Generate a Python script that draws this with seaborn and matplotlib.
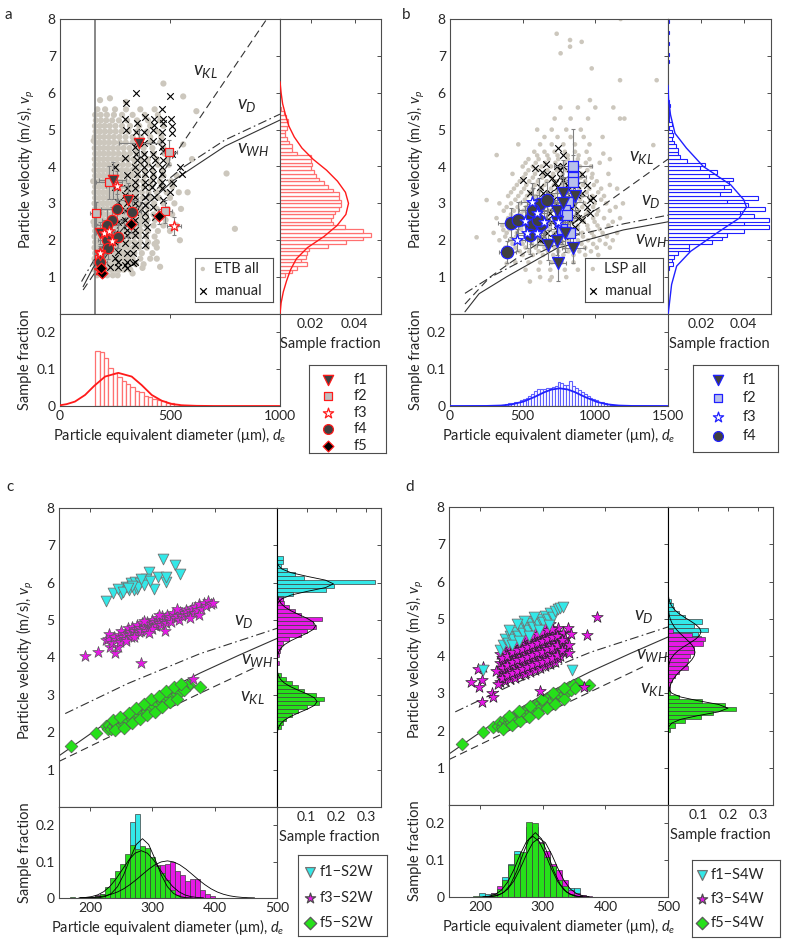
import numpy as np
import matplotlib
matplotlib.use('Agg')
import matplotlib.pyplot as plt
import seaborn as sns

sns.set_style('white')
plt.rcParams['font.family'] = ['Lato', 'DejaVu Sans']
plt.rcParams['mathtext.fontset'] = 'custom'
plt.rcParams['mathtext.rm'] = 'Lato'
plt.rcParams['mathtext.it'] = 'Lato:italic'
plt.rcParams['font.size'] = 10

# ---------------- panel a (ETB) ----------------
etb_rows = [
    (1.05, [168, 190, 215, 240, 262]),
    (1.2, [158, 176, 195, 213, 232, 251, 270, 290, 320]),
    (1.35, [160, 178, 196, 215, 234, 252, 271, 292, 315, 345, 380]),
    (1.5, [157, 175, 193, 211, 230, 248, 267, 286, 306, 330, 365, 410]),
    (1.65, [160, 178, 197, 216, 234, 253, 272, 292, 313, 338, 372, 420]),
    (1.8, [157, 175, 193, 212, 231, 250, 269, 289, 310, 333, 360, 395, 440]),
    (1.95, [160, 178, 196, 215, 234, 253, 272, 292, 314, 338, 365, 400, 440]),
    (2.1, [157, 175, 194, 213, 232, 251, 271, 291, 312, 335, 360, 392, 430]),
    (2.25, [160, 178, 197, 216, 235, 254, 274, 295, 317, 341, 368, 400, 445, 500]),
    (2.4, [157, 175, 194, 213, 232, 252, 272, 293, 315, 338, 363, 392, 425, 470, 530]),
    (2.55, [160, 178, 197, 216, 235, 255, 275, 296, 318, 342, 368, 398, 432, 480]),
    (2.7, [157, 176, 195, 214, 233, 253, 273, 294, 316, 339, 364, 392, 425, 462, 510]),
    (2.85, [160, 178, 197, 216, 236, 256, 276, 297, 320, 344, 370, 400, 440, 490, 550]),
    (3.0, [157, 175, 194, 213, 233, 253, 273, 294, 316, 340, 366, 395, 428, 470, 520]),
    (3.15, [160, 179, 198, 217, 237, 257, 278, 300, 323, 348, 376, 408, 450, 500]),
    (3.3, [157, 176, 195, 214, 234, 254, 275, 297, 320, 345, 372, 402, 440, 485, 540]),
    (3.45, [160, 179, 198, 218, 238, 258, 279, 301, 325, 351, 380, 415, 460, 510]),
    (3.6, [157, 176, 195, 215, 235, 256, 277, 299, 323, 349, 378, 412, 455, 505]),
    (3.75, [160, 179, 198, 218, 238, 259, 281, 304, 328, 355, 386, 425, 470, 530]),
    (3.9, [157, 176, 196, 216, 236, 257, 279, 302, 327, 354, 385, 420, 465]),
    (4.05, [160, 180, 200, 220, 241, 263, 286, 311, 338, 368, 402, 445, 495]),
    (4.2, [158, 177, 197, 217, 238, 260, 283, 308, 335, 365, 400, 440, 490]),
    (4.35, [160, 180, 200, 221, 243, 266, 291, 318, 348, 382, 425, 475]),
    (4.5, [158, 178, 198, 219, 241, 264, 289, 316, 346, 380, 420, 470]),
    (4.65, [161, 181, 202, 224, 247, 272, 299, 330, 365, 408, 455]),
    (4.8, [158, 179, 200, 222, 245, 270, 298, 330, 368, 410, 460]),
    (4.95, [162, 183, 205, 228, 253, 280, 312, 350, 395, 445]),
    (5.1, [159, 180, 202, 226, 252, 282, 318, 360, 410, 470]),
    (5.25, [163, 186, 210, 237, 268, 305, 350, 400, 455]),
    (5.4, [160, 185, 213, 245, 282, 330, 385, 445]),
    (5.55, [170, 205, 250, 300, 365, 430]),
]
etb_extra_d = [182, 227, 300, 470, 560, 620, 757, 795, 560, 580, 545, 440, 375, 330, 600, 455, 430, 152, 151, 153]
etb_extra_v = [5.8, 5.85, 5.75, 6.25, 5.9, 5.5, 3.81, 2.31, 4.6, 3.3, 2.0, 1.5, 1.25, 1.1, 4.2, 1.28, 1.9, 2.5, 3.6, 4.7]

etb_manual = [(344, 6.0), (500, 5.91), (300, 5.71), (465, 5.57), (295, 5.3), (300, 4.99), (386, 5.33), (427, 5.3),
              (469, 5.3), (503, 5.3), (427, 5.12), (466, 5.17), (507, 5.1), (348, 5.17), (344, 4.94), (382, 4.94),
              (424, 4.99), (463, 4.94), (507, 4.9), (348, 4.67), (382, 4.64), (424, 4.69), (463, 4.7), (462, 4.54),
              (469, 4.43), (295, 4.22), (341, 4.54), (344, 4.35), (382, 4.35), (424, 4.35), (507, 4.35), (348, 4.17),
              (382, 4.17), (432, 4.17), (469, 4.17), (250, 3.99), (341, 3.99), (382, 3.99), (417, 3.99), (465, 3.99),
              (545, 3.99), (553, 3.81), (348, 3.81), (386, 3.81), (424, 3.81), (465, 3.81), (303, 3.77), (341, 3.59),
              (386, 3.59), (424, 3.63), (465, 3.59), (515, 3.54), (250, 3.45), (303, 3.41), (341, 3.41), (386, 3.45),
              (417, 3.45), (465, 3.41), (500, 3.32), (295, 3.23), (341, 3.18), (386, 3.18), (429, 3.18), (469, 3.09),
              (265, 3.04), (303, 3.0), (341, 3.0), (386, 2.95), (424, 2.91), (257, 2.86), (295, 2.82), (341, 2.77),
              (386, 2.73), (432, 2.64), (295, 2.55), (341, 2.55), (386, 2.55), (265, 2.5), (394, 2.37), (303, 2.28),
              (341, 2.28), (250, 2.19), (303, 2.14), (341, 2.14), (386, 2.14), (250, 1.96), (295, 1.92), (341, 1.87),
              (386, 1.87), (220, 1.73), (265, 1.69), (303, 1.65), (333, 1.65), (250, 1.51), (265, 1.42), (303, 1.42),
              (341, 1.42), (295, 1.33), (333, 1.37), (265, 1.28), (303, 1.24), (227, 1.28)]

# (d, v, d error, v error)
etb_f1 = [(361, 4.64, 95, 0.35), (239, 3.63, 60, 0.5), (308, 3.09, 45, 0.45), (183, 2.2, 25, 0.3), (180, 1.6, 20, 0.2)]
etb_f2 = [(162, 2.74, 25, 0.3), (224, 3.57, 60, 0.45), (497, 4.38, 35, 0.35), (477, 2.78, 30, 0.3), (178, 1.5, 20, 0.2)]
etb_f3 = [(257, 3.48, 50, 0.4), (518, 2.38, 30, 0.25), (200, 2.2, 35, 0.3), (222, 2.25, 30, 0.3), (237, 1.97, 25, 0.25),
          (183, 1.65, 20, 0.2), (175, 1.2, 15, 0.15)]
etb_f4 = [(257, 2.86, 70, 0.4), (329, 2.76, 40, 0.3), (235, 2.55, 45, 0.35), (212, 2.41, 50, 0.45), (212, 2.0, 40, 0.35),
          (265, 2.1, 45, 0.3), (218, 1.78, 40, 0.3), (182, 1.42, 30, 0.2)]
etb_f5 = [(323, 2.45, 30, 0.25), (451, 2.65, 25, 0.2), (189, 1.1, 15, 0.1), (186, 1.25, 15, 0.1)]
etb_cutoff = 160

a_kl = ([105, 940], [0.65, 8.0])
a_dd = ([98, 150, 200, 300, 400, 560, 750, 1000], [0.88, 1.42, 1.88, 2.62, 3.2, 3.98, 4.72, 5.42])
a_wh = ([105, 150, 200, 300, 400, 515, 750, 1000], [0.74, 1.25, 1.7, 2.42, 3.0, 3.62, 4.55, 5.26])

a_vhist_start, a_vhist_w = 1.0, 0.1
a_vhist = [0.0085, 0.0115, 0.0138, 0.0185, 0.0154, 0.0177, 0.0185, 0.019, 0.0277, 0.036, 0.044, 0.0474, 0.0438,
           0.0354, 0.030, 0.029, 0.030, 0.031, 0.033, 0.034, 0.034, 0.033, 0.033, 0.030, 0.0277, 0.026, 0.0238,
           0.0223, 0.0215, 0.020, 0.0208, 0.020, 0.020, 0.0138, 0.0115, 0.0115, 0.010, 0.0092, 0.0085, 0.0085,
           0.009, 0.0097, 0.0097, 0.0088, 0.0077, 0.0066]
a_vfit_v = [0.0, 0.3, 0.6, 0.9, 1.2, 1.5, 1.8, 2.1, 2.4, 2.7, 3.0, 3.3, 3.6, 3.9, 4.2, 4.5, 4.8, 5.1, 5.4, 5.7, 6.0, 6.3]
a_vfit_f = [0.0060, 0.0065, 0.0075, 0.0090, 0.0108, 0.0135, 0.0185, 0.0260, 0.0320, 0.0360, 0.0372, 0.0358, 0.0322,
            0.0272, 0.0210, 0.0160, 0.0125, 0.0100, 0.0085, 0.0072, 0.0065, 0.0060]
a_dhist_start, a_dhist_w = 160, 20
a_dhist = [0.150, 0.148, 0.130, 0.103, 0.091, 0.080, 0.068, 0.059, 0.051, 0.041, 0.038, 0.028, 0.025, 0.019,
           0.016, 0.014, 0.009, 0.007, 0.005, 0.004]
a_dfit_d = [0, 30, 68, 114, 156, 205, 265, 326, 371, 417, 462, 508, 553, 620, 700, 1000]
a_dfit_f = [0.002, 0.005, 0.012, 0.030, 0.055, 0.080, 0.090, 0.080, 0.057, 0.030, 0.0145, 0.0055, 0.002, 0.0005, 0, 0]

# ---------------- panel b (LSP) ----------------
lsp_rows = [
    (1.0, [620, 700, 800]),
    (1.2, [520, 610, 690, 790, 880]),
    (1.4, [450, 540, 620, 700, 770, 850, 950]),
    (1.6, [420, 500, 570, 640, 710, 780, 850, 930, 1020]),
    (1.7, [480, 545, 610, 675, 745, 815, 890, 970]),
    (1.8, [380, 450, 520, 590, 650, 720, 790, 860, 930, 1010, 1100]),
    (1.9, [430, 500, 565, 630, 700, 770, 840, 905, 985, 1070]),
    (2.0, [340, 420, 490, 555, 620, 685, 750, 815, 880, 950, 1030, 1120]),
    (2.1, [380, 455, 520, 585, 650, 715, 785, 850, 915, 990, 1080]),
    (2.2, [300, 390, 460, 525, 590, 650, 715, 780, 845, 910, 975, 1050, 1150]),
    (2.3, [410, 490, 555, 620, 685, 750, 815, 880, 950, 1030]),
    (2.4, [360, 430, 495, 560, 620, 685, 750, 815, 880, 945, 1015, 1090]),
    (2.5, [395, 465, 530, 590, 655, 720, 785, 850, 920, 995, 1120]),
    (2.6, [320, 400, 470, 535, 595, 655, 720, 785, 850, 915, 985, 1060, 1170]),
    (2.7, [420, 490, 550, 610, 675, 740, 805, 870, 935, 1010]),
    (2.8, [370, 440, 505, 565, 625, 690, 755, 820, 885, 950, 1020, 1100]),
    (2.9, [390, 465, 525, 585, 650, 715, 780, 845, 910, 985, 1140]),
    (3.0, [340, 420, 485, 545, 605, 665, 730, 795, 860, 925, 995, 1075, 1190]),
    (3.1, [450, 515, 575, 635, 700, 765, 830, 895, 965, 1040]),
    (3.2, [400, 470, 530, 590, 650, 715, 780, 845, 910, 980, 1060]),
    (3.3, [420, 490, 550, 610, 675, 740, 805, 870, 940, 1020]),
    (3.4, [440, 510, 570, 630, 695, 760, 825, 890, 960, 1040, 1150]),
    (3.5, [460, 525, 585, 650, 715, 780, 845, 915, 990, 1100]),
    (3.6, [480, 545, 605, 665, 730, 795, 860, 930, 1010]),
    (3.7, [505, 570, 635, 700, 765, 830, 900, 975]),
    (3.8, [430, 520, 585, 645, 710, 775, 840, 905, 980, 1090]),
    (3.9, [540, 605, 670, 735, 800, 870, 945]),
    (4.0, [500, 570, 630, 695, 760, 825, 895, 970]),
    (4.1, [520, 590, 655, 725, 790, 860, 935, 1030]),
    (4.2, [540, 610, 680, 745, 810, 880, 960, 1100]),
    (4.3, [600, 670, 740, 810, 885]),
    (4.4, [580, 650, 720, 790, 860, 940]),
    (4.6, [470, 620, 700, 780, 860, 960]),
    (4.8, [650, 740, 830, 920, 1050]),
    (5.0, [600, 700, 800, 900]),
    (5.3, [720, 830, 950, 1200]),
    (5.6, [760, 880, 1000]),
]
lsp_extra_d = [321, 252, 183, 1170, 1422, 906, 826, 734, 826, 1174, 975, 761, 1055, 1399, 1124, 963, 1170, 550, 688, 390, 367]
lsp_extra_v = [4.31, 3.09, 2.08, 6.34, 6.34, 7.38, 7.25, 7.6, 7.43, 8.0, 6.66, 7.07, 4.35, 4.58, 5.6, 5.8, 5.3, 0.88, 0.92, 1.37, 2.28]

lsp_manual = [(745, 4.49), (780, 4.31), (660, 4.08), (585, 3.95), (504, 3.63), (630, 3.86), (700, 3.68), (757, 3.72),
              (780, 4.0), (826, 3.81), (906, 3.81), (940, 3.5), (986, 3.14), (963, 2.73), (906, 3.27), (872, 3.5),
              (803, 3.5), (734, 3.45), (688, 3.27), (642, 3.27), (711, 3.09), (826, 2.91), (872, 2.73), (906, 2.55),
              (860, 2.37), (826, 2.55), (688, 2.73), (665, 2.55), (734, 2.28), (665, 2.19), (619, 2.01), (619, 3.45),
              (550, 3.27), (734, 4.0), (780, 3.63), (837, 3.09), (780, 2.37), (573, 2.95), (963, 3.09), (665, 3.81),
              (872, 3.23), (711, 2.91), (757, 2.64), (826, 2.28), (760, 3.9), (800, 3.3), (850, 2.95), (700, 2.5),
              (880, 2.6), (940, 2.9), (600, 2.6), (640, 2.3), (720, 3.55), (760, 2.9)]

lsp_f1 = [(780, 3.27, 120, 0.9), (860, 3.2, 90, 0.6), (734, 2.5, 80, 0.5), (791, 2.19, 70, 0.5), (734, 1.99, 60, 0.4),
          (672, 1.87, 70, 0.4), (741, 1.39, 60, 0.5), (849, 1.78, 80, 0.4), (734, 2.79, 100, 0.6), (780, 3.0, 90, 0.7)]
lsp_f2 = [(844, 4.01, 130, 1.0), (844, 3.72, 90, 0.6), (844, 3.59, 80, 0.5), (815, 3.04, 100, 0.6),
          (788, 2.82, 90, 0.5), (803, 2.68, 80, 0.4), (768, 2.3, 70, 0.4), (826, 2.19, 60, 0.3)]
lsp_f3 = [(566, 3.04, 80, 0.5), (596, 2.73, 70, 0.5), (516, 2.52, 60, 0.4), (527, 2.19, 70, 0.4), (459, 2.01, 60, 0.3),
          (596, 2.21, 60, 0.3), (649, 2.49, 70, 0.4), (745, 2.49, 80, 0.4)]
lsp_f4 = [(418, 2.48, 90, 0.4), (466, 2.55, 80, 0.5), (562, 2.64, 100, 0.6), (612, 2.99, 80, 0.7), (665, 3.09, 90, 0.5),
          (573, 2.82, 100, 0.6), (557, 2.41, 80, 0.5), (624, 2.44, 70, 0.4), (394, 1.67, 60, 0.3), (550, 2.14, 90, 0.5),
          (607, 2.55, 80, 0.5)]

b_kl = ([103, 275, 573, 1055, 1500], [0.27, 1.0, 1.83, 2.95, 4.2])
b_dd = ([103, 275, 504, 872, 1200, 1500], [0.56, 0.99, 1.46, 2.14, 2.45, 2.68])
b_wh = ([103, 200, 390, 734, 1193, 1500], [0.06, 0.55, 1.01, 1.78, 2.28, 2.5])

b_vhist_start, b_vhist_w = 1.2, 0.1
b_vhist = [0.005, 0.0068, 0.006, 0.007, 0.009, 0.014, 0.014, 0.025, 0.030, 0.032, 0.040, 0.052, 0.040, 0.052, 0.045,
           0.0385, 0.050, 0.042, 0.032, 0.047, 0.029, 0.034, 0.031, 0.033, 0.035, 0.0235, 0.0275, 0.0195, 0.022,
           0.0135, 0.010, 0.009, 0.009, 0.008, 0.007, 0.006, 0.0065, 0.006, 0.005, 0.006, 0.005, 0.005, 0.0048,
           0.0046, 0.0052, 0.0046]
b_vhist_sparse_v = [6.0, 6.8, 7.0, 7.3, 7.6, 7.9]
b_vhist_sparse_f = [0.0045, 0.0046, 0.005, 0.0048, 0.005, 0.0046]
b_vfit_v = [0.0, 0.4, 0.8, 1.3, 1.7, 2.2, 2.6, 2.9, 3.1, 3.5, 4.0, 4.5, 4.9, 5.4, 5.8, 6.2]
b_vfit_f = [0.0044, 0.0052, 0.0060, 0.0084, 0.0150, 0.0275, 0.0380, 0.0414, 0.0401, 0.0340, 0.0210, 0.0130,
            0.0076, 0.0055, 0.0046, 0.0043]
b_dhist_start, b_dhist_w = 360, 20
b_dhist = [0.003, 0.005, 0.008, 0.009, 0.010, 0.012, 0.015, 0.018, 0.022, 0.027, 0.032, 0.040, 0.045, 0.045, 0.046,
           0.048, 0.050, 0.052, 0.055, 0.065, 0.062, 0.058, 0.056, 0.067, 0.055, 0.050, 0.044, 0.038, 0.032, 0.027,
           0.022, 0.018, 0.015, 0.012, 0.010, 0.008, 0.006, 0.004, 0.003, 0.002]
b_dfit_d = [0, 250, 350, 420, 504, 580, 650, 700, 755, 810, 860, 930, 1010, 1080, 1160, 1250, 1500]
b_dfit_f = [0, 0.0002, 0.0013, 0.0040, 0.0118, 0.0243, 0.0376, 0.0449, 0.0480, 0.0449, 0.0376, 0.0243, 0.0113,
            0.0046, 0.0013, 0.0002, 0]

# ---------------- panel c (S2W) ----------------
c_f1 = [(225, 5.5), (237, 5.73), (250, 5.71), (257, 5.89), (265, 5.98), (272, 6.02), (280, 5.98), (285, 6.07),
        (294, 6.29), (302, 5.84), (309, 6.16), (317, 6.64), (322, 6.02), (321, 6.16), (336, 6.47), (344, 6.24),
        (270, 5.8), (275, 5.84), (262, 5.8), (290, 6.11), (277, 5.89), (245, 5.84), (253, 5.76), (286, 5.93),
        (268, 5.92), (281, 6.1), (296, 6.05), (260, 5.86)]
c_f3 = [(192, 4.04), (212, 4.15), (225, 4.47), (232, 4.29), (240, 4.11), (245, 4.29), (282, 3.84), (365, 3.42),
        (228, 4.5), (230, 4.62), (235, 4.4), (238, 4.55), (242, 4.48), (246, 4.6), (248, 4.42), (250, 4.7),
        (253, 4.55), (256, 4.63), (258, 4.5), (260, 4.78), (262, 4.6), (264, 4.68), (266, 4.55), (268, 4.82),
        (270, 4.7), (272, 4.62), (274, 4.76), (276, 4.88), (278, 4.68), (280, 4.8), (282, 4.72), (284, 4.92),
        (286, 4.78), (288, 4.85), (290, 4.7), (292, 4.95), (294, 4.82), (296, 4.9), (298, 4.78), (300, 5.0),
        (302, 4.88), (304, 4.95), (306, 4.83), (308, 5.05), (310, 4.92), (312, 5.0), (314, 4.88), (316, 5.1),
        (318, 4.97), (320, 5.05), (322, 4.92), (324, 5.15), (326, 5.02), (328, 5.08), (330, 4.95), (333, 5.18),
        (336, 5.05), (339, 5.12), (342, 5.0), (345, 5.22), (348, 5.1), (351, 5.18), (354, 5.28), (357, 5.15),
        (360, 5.25), (363, 5.32), (366, 5.2), (369, 5.35), (372, 5.28), (375, 5.42), (378, 5.3), (382, 5.45),
        (386, 5.38), (390, 5.5), (394, 5.44), (398, 5.47), (270, 4.55), (300, 4.75), (320, 4.7), (340, 5.3),
        (286, 4.98), (257, 4.45), (310, 5.15), (295, 4.65), (375, 5.15), (360, 5.05)]
c_f5 = [(170, 1.62), (210, 1.98), (226, 2.16), (376, 3.22), (359, 3.27), (355, 3.25), (228, 2.1), (231, 2.2),
        (234, 2.08), (237, 2.18), (240, 2.25), (243, 2.15), (246, 2.28), (249, 2.2), (252, 2.35), (255, 2.25),
        (258, 2.38), (261, 2.3), (264, 2.45), (267, 2.35), (270, 2.5), (273, 2.42), (276, 2.55), (279, 2.47),
        (282, 2.6), (285, 2.52), (288, 2.66), (291, 2.58), (294, 2.7), (297, 2.62), (300, 2.8), (303, 2.7),
        (306, 2.84), (309, 2.75), (312, 2.9), (315, 2.8), (318, 2.95), (321, 2.86), (324, 3.0), (327, 2.92),
        (330, 3.05), (333, 2.97), (336, 3.1), (339, 3.02), (342, 3.15), (345, 3.08), (348, 3.2), (351, 3.12),
        (236, 2.32), (248, 2.4), (262, 2.52), (274, 2.65), (286, 2.75), (298, 2.88), (310, 2.98), (322, 3.1),
        (334, 3.2), (346, 3.3), (240, 2.05), (255, 2.12), (268, 2.25), (280, 2.35), (292, 2.45), (304, 2.55),
        (316, 2.68), (328, 2.8), (340, 2.9)]

cd_kl = ([150, 250, 376, 467], [1.22, 2.03, 3.04, 3.75])
cd_dd = ([160, 260, 376, 500], [2.5, 3.3, 4.1, 4.78])
cd_wh = ([150, 217, 296, 376, 440, 500], [1.37, 2.15, 2.91, 3.58, 4.07, 4.51])

c_vhist_w = 0.107
c_vhist1 = (5.53, [0.02, 0.053, 0.164, 0.192, 0.331, 0.092, 0.059, 0.033, 0.012, 0.02, 0.02])
c_vhist3 = (3.80, [0.006, 0.0, 0.007, 0.01, 0.015, 0.02, 0.04, 0.08, 0.10, 0.13, 0.12, 0.15, 0.08, 0.06, 0.04,
                   0.025, 0.02])
c_vhist5 = (2.08, [0.015, 0.02, 0.03, 0.05, 0.07, 0.10, 0.14, 0.157, 0.13, 0.09, 0.07, 0.05, 0.03, 0.015])
c_vfit1 = ([5.37, 5.47, 5.57, 5.67, 5.77, 5.87, 5.97, 6.07, 6.17, 6.27, 6.37, 6.47, 6.57],
           [0.0007, 0.004, 0.016, 0.047, 0.102, 0.163, 0.190, 0.163, 0.102, 0.047, 0.016, 0.004, 0.0007])
c_vfit3 = ([3.95, 4.05, 4.15, 4.25, 4.35, 4.45, 4.55, 4.65, 4.75, 4.85, 4.95, 5.05, 5.15, 5.25, 5.35, 5.45, 5.55,
            5.65, 5.75],
           [0.0007, 0.0022, 0.0057, 0.0131, 0.0264, 0.0469, 0.0732, 0.1008, 0.1219, 0.13, 0.1219, 0.1008, 0.0732,
            0.0469, 0.0264, 0.0131, 0.0057, 0.0022, 0.0007])
c_vfit5 = ([1.92, 2.02, 2.12, 2.22, 2.32, 2.42, 2.52, 2.62, 2.72, 2.82, 2.92, 3.02, 3.12, 3.22, 3.32, 3.42, 3.52,
            3.62, 3.72],
           [0.0005, 0.0017, 0.0047, 0.0114, 0.0243, 0.0451, 0.0728, 0.1026, 0.1261, 0.135, 0.1261, 0.1026, 0.0728,
            0.0451, 0.0243, 0.0114, 0.0047, 0.0017, 0.0005])

c_dhist_w = 8
c_dhist1 = (240, [0.01, 0.03, 0.09, 0.21, 0.23, 0.14, 0.10, 0.06, 0.03, 0.02, 0.01])
c_dhist3 = (192, [0.004, 0.004, 0.008, 0.01, 0.012, 0.02, 0.025, 0.03, 0.04, 0.05, 0.06, 0.07, 0.08, 0.085, 0.09,
                  0.09, 0.093, 0.099, 0.074, 0.062, 0.046, 0.051, 0.051, 0.023, 0.01, 0.005])
c_dhist5 = (168, [0.003, 0.0, 0.002, 0.002, 0.003, 0.005, 0.012, 0.03, 0.056, 0.074, 0.093, 0.12, 0.145, 0.134,
                  0.142, 0.136, 0.114, 0.088, 0.068, 0.049, 0.023, 0.007, 0.003])
c_dfit1 = (list(range(204, 365, 10)),
           [0.0002, 0.001, 0.004, 0.0123, 0.0312, 0.0643, 0.1078, 0.147, 0.163, 0.147, 0.1078, 0.0643, 0.0312,
            0.0123, 0.004, 0.001, 0.0002])
c_dfit3 = (list(range(184, 465, 10)),
           [0.0004, 0.0008, 0.0017, 0.0033, 0.006, 0.0103, 0.0166, 0.0254, 0.0368, 0.0502, 0.0648, 0.0791, 0.0911,
            0.0991, 0.102, 0.0991, 0.0911, 0.0791, 0.0648, 0.0502, 0.0368, 0.0254, 0.0166, 0.0103, 0.006, 0.0033,
            0.0017, 0.0008, 0.0004])
c_dfit5 = (list(range(182, 383, 10)),
           [0.0005, 0.0014, 0.0037, 0.0085, 0.0176, 0.0324, 0.0534, 0.0788, 0.1041, 0.123, 0.13, 0.123, 0.1041,
            0.0788, 0.0534, 0.0324, 0.0176, 0.0085, 0.0037, 0.0014, 0.0005])

# ---------------- panel d (S4W) ----------------
d_f1 = [(231, 4.16), (236, 4.3), (240, 4.45), (244, 4.35), (248, 4.55), (252, 4.45), (256, 4.65), (260, 4.55),
        (264, 4.75), (268, 4.62), (272, 4.8), (276, 4.7), (280, 4.88), (284, 4.78), (288, 4.95), (292, 4.85),
        (296, 5.0), (300, 4.92), (304, 5.08), (308, 5.0), (312, 5.15), (316, 5.05), (320, 5.22), (324, 5.25),
        (328, 5.28), (332, 5.32), (204, 3.62), (347, 3.62), (250, 4.3), (262, 4.4), (278, 4.55), (294, 4.7),
        (310, 4.82), (270, 4.95), (286, 5.05), (246, 4.7), (258, 4.85)]
d_f3_cols = [
    (232, [3.3, 3.55, 3.8, 4.05]), (236, [3.4, 3.65, 3.9, 4.15]), (240, [3.32, 3.6, 3.85, 4.1]),
    (244, [3.45, 3.7, 3.95, 4.25]), (248, [3.38, 3.65, 3.9, 4.18]), (252, [3.5, 3.78, 4.02, 4.3]),
    (256, [3.42, 3.7, 3.95, 4.22, 4.45]), (260, [3.55, 3.82, 4.08, 4.35]), (264, [3.48, 3.75, 4.0, 4.28, 4.55]),
    (268, [3.6, 3.88, 4.12, 4.4]), (272, [3.52, 3.8, 4.05, 4.32, 4.6]), (276, [3.65, 3.92, 4.18, 4.45]),
    (280, [3.58, 3.85, 4.1, 4.38, 4.65]), (284, [3.7, 3.98, 4.22, 4.5]), (288, [3.62, 3.9, 4.15, 4.42, 4.7]),
    (292, [3.75, 4.02, 4.28, 4.55]), (296, [3.68, 3.95, 4.2, 4.48, 4.75]), (300, [3.8, 4.08, 4.32, 4.6]),
    (304, [3.72, 4.0, 4.25, 4.52, 4.78]), (308, [3.85, 4.12, 4.38, 4.65]), (312, [3.78, 4.05, 4.3, 4.58, 4.85]),
    (316, [3.9, 4.18, 4.42, 4.7]), (320, [3.85, 4.12, 4.36, 4.62]), (324, [3.95, 4.22, 4.48, 4.75]),
    (328, [4.0, 4.28, 4.55]), (332, [4.1, 4.38, 4.62]), (336, [4.2, 4.45]),
    (234, [3.42, 3.68, 3.95]), (242, [3.48, 3.75, 4.0]), (250, [3.55, 3.85, 4.1]), (258, [3.6, 3.88, 4.15, 4.38]),
    (266, [3.65, 3.92, 4.2, 4.45]), (274, [3.7, 3.98, 4.25, 4.5]), (282, [3.75, 4.02, 4.3, 4.55]),
    (290, [3.8, 4.08, 4.35, 4.6]), (298, [3.85, 4.12, 4.4, 4.65]), (306, [3.9, 4.18, 4.45, 4.7]),
    (314, [3.95, 4.22, 4.5, 4.72]), (322, [4.02, 4.3, 4.55]), (330, [4.15, 4.42]),
]
d_f3_extra = [(185, 3.29), (196, 3.64), (204, 3.71), (203, 3.35), (198, 3.17), (202, 2.77), (219, 3.01), (220, 2.9),
              (386, 5.05), (371, 4.56), (366, 3.17), (295, 3.07), (342, 4.07), (340, 4.75), (345, 4.6), (225, 3.6),
              (228, 3.25), (342, 4.3)]
d_f5 = [(171, 1.63), (204, 1.97), (221, 2.1), (356, 3.28), (374, 3.22), (228, 2.12), (231, 2.22), (234, 2.1),
        (237, 2.2), (240, 2.27), (243, 2.17), (246, 2.3), (249, 2.22), (252, 2.37), (255, 2.27), (258, 2.4),
        (261, 2.32), (264, 2.47), (267, 2.37), (270, 2.52), (273, 2.44), (276, 2.57), (279, 2.49), (282, 2.62),
        (285, 2.54), (288, 2.68), (291, 2.6), (294, 2.72), (297, 2.64), (300, 2.8), (303, 2.72), (306, 2.86),
        (309, 2.77), (312, 2.92), (315, 2.82), (318, 2.97), (321, 2.88), (324, 3.02), (327, 2.94), (330, 3.07),
        (333, 2.99), (336, 3.12), (339, 3.04), (342, 3.17), (345, 3.1), (348, 3.22), (351, 3.15), (236, 2.05),
        (250, 2.14), (264, 2.25), (278, 2.36), (292, 2.48), (306, 2.6), (320, 2.72), (334, 2.84), (246, 2.38),
        (262, 2.52), (280, 2.66), (298, 2.84), (316, 3.0), (334, 3.15)]
d_kl = ([150, 250, 376, 460], [1.22, 2.03, 3.04, 3.71])

d_vhist_w = 0.11
d_vhist1 = (4.32, [0.072, 0.11, 0.10, 0.133, 0.085, 0.113, 0.057, 0.035, 0.02, 0.015, 0.011])
d_vhist3 = (3.07, [0.005, 0.008, 0.013, 0.024, 0.035, 0.068, 0.063, 0.068, 0.074, 0.085, 0.088, 0.118, 0.124,
                   0.08, 0.015])
d_vhist5 = (1.97, [0.008, 0.024, 0.057, 0.11, 0.15, 0.226, 0.19, 0.113, 0.035, 0.008])
d_vfit1 = ([3.65, 3.75, 3.85, 3.95, 4.05, 4.15, 4.25, 4.35, 4.45, 4.55, 4.65, 4.75, 4.85, 4.95, 5.05, 5.15, 5.25,
            5.35, 5.45, 5.55, 5.65],
           [0.0011, 0.0027, 0.0058, 0.0116, 0.0211, 0.0349, 0.0528, 0.0728, 0.0915, 0.1051, 0.11, 0.1051, 0.0915,
            0.0728, 0.0528, 0.0349, 0.0211, 0.0116, 0.0058, 0.0027, 0.0011])
d_vfit3 = ([2.9, 3.0, 3.1, 3.2, 3.3, 3.4, 3.5, 3.6, 3.7, 3.8, 3.9, 4.0, 4.1, 4.2, 4.3, 4.4, 4.5, 4.6, 4.7, 4.8,
            4.9, 5.0, 5.1, 5.2, 5.3],
           [0.001, 0.0021, 0.004, 0.0072, 0.0122, 0.0195, 0.0292, 0.0412, 0.0546, 0.0679, 0.0794, 0.0872, 0.09,
            0.0872, 0.0794, 0.0679, 0.0546, 0.0412, 0.0292, 0.0195, 0.0122, 0.0072, 0.004, 0.0021, 0.001])
d_vfit5 = ([2.0, 2.1, 2.2, 2.3, 2.4, 2.5, 2.6, 2.7, 2.8, 2.9, 3.0, 3.1, 3.2],
           [0.0004, 0.0026, 0.0126, 0.0421, 0.1001, 0.1682, 0.2, 0.1682, 0.1001, 0.0421, 0.0126, 0.0026, 0.0004])

d_dhist_w = 9.5
d_dhist1 = (197.5, [0.011, 0.007, 0.01, 0.02, 0.053, 0.09, 0.125, 0.12, 0.19, 0.19, 0.14, 0.10, 0.08, 0.045,
                    0.03, 0.025, 0.025])
d_dhist3 = (216.5, [0.01, 0.03, 0.04, 0.07, 0.10, 0.12, 0.15, 0.17, 0.15, 0.125, 0.09, 0.073, 0.045, 0.02, 0.01,
                    0.005, 0.003])
d_dhist5 = (188, [0.002, 0.004, 0.004, 0.008, 0.023, 0.045, 0.086, 0.118, 0.123, 0.205, 0.200, 0.147, 0.109,
                  0.084, 0.047, 0.029, 0.009, 0.003, 0.001])
d_dfit1 = (list(range(204, 365, 10)),
           [0.0006, 0.0023, 0.0072, 0.0188, 0.0412, 0.0755, 0.1166, 0.1513, 0.165, 0.1513, 0.1166, 0.0755, 0.0412,
            0.0188, 0.0072, 0.0023, 0.0006])
d_dfit3 = (list(range(214, 375, 10)),
           [0.001, 0.0032, 0.009, 0.0216, 0.0445, 0.0779, 0.1162, 0.1477, 0.16, 0.1477, 0.1162, 0.0779, 0.0445,
            0.0216, 0.009, 0.0032, 0.001])
d_dfit5 = (list(range(208, 369, 10)),
           [0.0002, 0.0011, 0.0043, 0.0132, 0.0335, 0.0691, 0.1158, 0.1578, 0.175, 0.1578, 0.1158, 0.0691, 0.0335,
            0.0132, 0.0043, 0.0011, 0.0002])

# ---------------- drawing ----------------
W, H = 787, 947
fig = plt.figure(figsize=(W / 100, H / 100), dpi=100)

RED = '#ff1a1a'
BLUE = '#2020ff'
CYAN = '#33e8e8'
MAG = '#e619e6'
GRN = '#26e01a'
GRAY_DOT = (0.80, 0.78, 0.74)


def add_ax(x0, y0, x1, y1):
    return fig.add_axes([x0 / W, 1 - y1 / H, (x1 - x0) / W, (y1 - y0) / H])


def frame(ax):
    for s in ax.spines.values():
        s.set_color('0.3')
        s.set_linewidth(0.8)
    ax.tick_params(direction='in', length=3, width=0.7, color='0.3', labelsize=10, top=True, right=True, pad=3)


def ftext(x, y, s, **kw):
    fig.text(x / W, 1 - y / H, s, **kw)


def unzip(pts):
    return [p[0] for p in pts], [p[1] for p in pts]


def expand_rows(rows):
    xs, ys = [], []
    for v, ds in rows:
        xs += ds
        ys += [v] * len(ds)
    return xs, ys


def expand_cols(cols):
    xs, ys = [], []
    for d, vs in cols:
        xs += [d] * len(vs)
        ys += vs
    return xs, ys


def main_ax(box, xlim, xticks):
    ax = add_ax(*box)
    frame(ax)
    ax.set_xlim(*xlim)
    ax.set_ylim(0, 8)
    ax.set_xticks(xticks)
    ax.set_yticks(range(1, 9))
    ax.tick_params(labelbottom=False)
    ax.set_ylabel(r'Particle velocity (m/s), $v_p$', fontsize=10.5)
    ax.yaxis.set_label_coords(-0.105, 0.49)
    return ax


def right_ax(box, xlim, xticks, labels):
    ax = add_ax(*box)
    frame(ax)
    ax.set_ylim(0, 8)
    ax.set_xlim(*xlim)
    ax.set_yticks(range(1, 9))
    ax.set_xticks(xticks)
    ax.set_xticklabels(labels)
    ax.tick_params(labelleft=False)
    ax.set_xlabel('Sample fraction', fontsize=10.5, labelpad=5)
    return ax


def bottom_ax(box, xlim, xticks):
    ax = add_ax(*box)
    frame(ax)
    ax.set_xlim(*xlim)
    ax.set_ylim(0, 0.25)
    ax.set_xticks(xticks)
    ax.set_yticks([0, 0.1, 0.2])
    ax.set_yticklabels(['0', '0.1', '0.2'])
    ax.set_xlabel(r'Particle equivalent diameter (μm), $d_e$', fontsize=10.5, labelpad=2)
    ax.set_ylabel('Sample fraction', fontsize=10.5)
    ax.yaxis.set_label_coords(-0.125, 0.5)
    return ax


def model_lines(ax, kl, dd, wh):
    ax.plot(kl[0], kl[1], color='0.2', lw=0.8, dashes=(7, 4))
    ax.plot(dd[0], dd[1], color='0.2', lw=0.8, dashes=(8, 3, 1.5, 3))
    ax.plot(wh[0], wh[1], color='0.2', lw=0.8)


def hbars(ax, start, w, vals, face, edge, lw=0.6, z=2):
    ax.barh(start + w * np.arange(len(vals)), vals, height=w, align='edge', color=face, edgecolor=edge,
            linewidth=lw, zorder=z)


def vbars(ax, start, w, vals, face, edge, lw=0.6, z=2):
    ax.bar(start + w * np.arange(len(vals)), vals, width=w, align='edge', color=face, edgecolor=edge,
           linewidth=lw, zorder=z)


def f_markers(ax, pts, marker, face, edge, size, z):
    d, v = [p[0] for p in pts], [p[1] for p in pts]
    ax.errorbar(d, v, xerr=[p[2] for p in pts], yerr=[p[3] for p in pts], fmt='none', ecolor='0.5',
                elinewidth=0.8, capsize=1.5, capthick=0.8, zorder=3)
    sns.scatterplot(x=d, y=v, ax=ax, marker=marker, s=size, color=face, edgecolor=edge, linewidth=0.9,
                    zorder=z, legend=False)


def legend_box(box, entries, mx, tx):
    ax = add_ax(*box)
    ax.set_xlim(0, 1)
    ax.set_ylim(0, 1)
    ax.set_xticks([])
    ax.set_yticks([])
    for s in ax.spines.values():
        s.set_color('0.3')
        s.set_linewidth(0.8)
    for yf, label, marker, face, edge, size in entries:
        ax.scatter([mx], [1 - yf], marker=marker, s=size, color=face, edgecolor=edge, linewidth=0.9)
        ax.text(tx, 1 - yf, label, va='center', ha='left', fontsize=10.5)
    return ax


def vlabels(positions):
    for x, y, s in positions:
        ftext(x, y, s, fontsize=13.5, ha='center', va='center')


# ===== panel a =====
ax = main_ax((60, 19, 280, 314), (0, 1000), [0, 500, 1000])
gx, gy = expand_rows(etb_rows)
sns.scatterplot(x=gx + etb_extra_d, y=gy + etb_extra_v, ax=ax, s=20, color=GRAY_DOT, edgecolor='none',
                legend=False, zorder=1)
ax.axvline(etb_cutoff, color='0.45', lw=1.2, zorder=2)
model_lines(ax, a_kl, a_dd, a_wh)
mx, my = unzip(etb_manual)
sns.scatterplot(x=mx, y=my, ax=ax, marker='x', s=22, color='black', linewidth=0.8, legend=False, zorder=3)
f_markers(ax, etb_f2, 's', '0.75', RED, 40, 4)
f_markers(ax, etb_f4, 'o', '0.25', RED, 55, 5)
f_markers(ax, etb_f1, 'v', '0.25', RED, 55, 5)
f_markers(ax, etb_f3, '*', 'white', RED, 60, 6)
f_markers(ax, etb_f5, 'D', 'black', RED, 30, 6)
vlabels([(205, 71, r'$v_{KL}$'), (247, 106, r'$v_D$'), (253, 150, r'$v_{WH}$')])

rax = right_ax((280, 19, 381, 314), (0.006, 0.052), [0.02, 0.04], ['0.02', '0.04'])
hbars(rax, a_vhist_start, a_vhist_w, a_vhist, 'white', '#ff7070', lw=0.9)
rax.plot(a_vfit_f, a_vfit_v, color=RED, lw=1.0, zorder=3)

bax = bottom_ax((60, 314, 280, 406), (0, 1000), [0, 500, 1000])
vbars(bax, a_dhist_start, a_dhist_w, a_dhist, 'white', '#ff7070', lw=0.9)
bax.plot(a_dfit_d, a_dfit_f, color=RED, lw=1.3, zorder=3)

legend_box((195, 258, 273, 302), [(0.25, 'ETB all', 'o', GRAY_DOT, 'none', 10),
                                  (0.76, 'manual', 'x', 'black', 'black', 22)], 0.1, 0.25)
legend_box((309, 365, 386, 453), [(0.17, 'f1', 'v', '0.25', RED, 55), (0.355, 'f2', 's', '0.75', RED, 30),
                                  (0.545, 'f3', '*', 'white', RED, 60), (0.73, 'f4', 'o', '0.25', RED, 50),
                                  (0.915, 'f5', 'D', 'black', RED, 30)], 0.25, 0.58)

# ===== panel b =====
ax = main_ax((450, 19, 668, 314), (0, 1500), [0, 500, 1000, 1500])
gx, gy = expand_rows(lsp_rows)
sns.scatterplot(x=gx + lsp_extra_d, y=gy + lsp_extra_v, ax=ax, s=11, color=GRAY_DOT, edgecolor='none',
                legend=False, zorder=1)
model_lines(ax, b_kl, b_dd, b_wh)
mx, my = unzip(lsp_manual)
sns.scatterplot(x=mx, y=my, ax=ax, marker='x', s=22, color='black', linewidth=0.8, legend=False, zorder=3)
f_markers(ax, lsp_f2, 's', '#b8c0ea', BLUE, 55, 4)
f_markers(ax, lsp_f4, 'o', '0.25', BLUE, 80, 5)
f_markers(ax, lsp_f1, 'v', '0.25', BLUE, 75, 5)
f_markers(ax, lsp_f3, '*', 'white', BLUE, 70, 6)
vlabels([(641, 158, r'$v_{KL}$'), (651, 202, r'$v_D$'), (651, 240, r'$v_{WH}$')])

rax = right_ax((668, 19, 771, 314), (0.0043, 0.053), [0.02, 0.04], ['0.02', '0.04'])
hbars(rax, b_vhist_start, b_vhist_w, b_vhist, 'white', BLUE, lw=0.8)
rax.barh(b_vhist_sparse_v, b_vhist_sparse_f, height=0.08, align='edge', color='white', edgecolor=BLUE, lw=0.8)
rax.plot(b_vfit_f, b_vfit_v, color=BLUE, lw=1.0, zorder=3)

bax = bottom_ax((450, 314, 668, 406), (0, 1500), [0, 500, 1000, 1500])
vbars(bax, b_dhist_start, b_dhist_w, b_dhist, 'white', '#6060ff', lw=0.8)
bax.plot(b_dfit_d, b_dfit_f, color=BLUE, lw=1.3, zorder=3)

legend_box((585, 258, 663, 302), [(0.25, 'LSP all', 'o', GRAY_DOT, 'none', 10),
                                  (0.76, 'manual', 'x', 'black', 'black', 22)], 0.1, 0.25)
legend_box((693, 365, 778, 452), [(0.17, 'f1', 'v', '0.25', BLUE, 55), (0.385, 'f2', 's', '#b8c0ea', BLUE, 30),
                                  (0.6, 'f3', '*', 'white', BLUE, 60), (0.815, 'f4', 'o', '0.25', BLUE, 50)],
           0.29, 0.59)


# ===== panels c and d =====
def wind_panel(mb, rb, bb, lb, f1, f3, f5, kl, vh, vf, dh, df, dw, vw, tag, lab_pos, leg_rows, leg_x, star_edge):
    ax = main_ax(mb, (150, 500), [200, 300, 400])
    model_lines(ax, kl, cd_dd, cd_wh)
    x1, y1 = f1
    x3, y3 = f3
    x5, y5 = f5
    sns.scatterplot(x=x5, y=y5, ax=ax, marker='D', s=42, color=GRN, edgecolor='0.35', linewidth=0.5,
                    legend=False, zorder=3)
    sns.scatterplot(x=x3, y=y3, ax=ax, marker='*', s=75, color=MAG, edgecolor=star_edge, linewidth=0.5,
                    legend=False, zorder=4)
    sns.scatterplot(x=x1, y=y1, ax=ax, marker='v', s=60, color=CYAN, edgecolor='0.45', linewidth=0.6,
                    legend=False, zorder=5)
    vlabels(lab_pos)

    rax = right_ax(rb, (0, 0.35), [0.1, 0.2, 0.3], ['0.1', '0.2', '0.3'])
    for (start, vals), col in zip(vh, [CYAN, MAG, GRN]):
        hbars(rax, start, vw, vals, col, '0.25', lw=0.5)
    for vv, ff in vf:
        rax.plot(ff, vv, color='black', lw=0.6, zorder=3)
    rax.spines['left'].set_color('black')

    bax = bottom_ax(bb, (150, 500), [200, 300, 400, 500])
    for (start, vals), col in zip(dh, [CYAN, MAG, GRN]):
        vbars(bax, start, dw, vals, col, '0.25', lw=0.5)
    for dd, ff in df:
        bax.plot(dd, ff, color='black', lw=0.6, zorder=3)

    legend_box(lb, [(leg_rows[0], 'f1\u2212' + tag, 'v', CYAN, '0.45', 50),
                    (leg_rows[1], 'f3\u2212' + tag, '*', MAG, '0.3', 60),
                    (leg_rows[2], 'f5\u2212' + tag, 'D', GRN, '0.35', 40)], leg_x, leg_x + 0.1)


wind_panel((59, 508, 277, 807), (277, 508, 381, 807), (59, 807, 277, 898), (298, 855, 387, 936),
           unzip(c_f1), unzip(c_f3), unzip(c_f5), cd_kl,
           [c_vhist1, c_vhist3, c_vhist5], [c_vfit1, c_vfit3, c_vfit5],
           [c_dhist1, c_dhist3, c_dhist5], [c_dfit1, c_dfit3, c_dfit5], c_dhist_w, c_vhist_w, 'S2W',
           [(244, 621, r'$v_D$'), (257, 660, r'$v_{WH}$'), (252, 697, r'$v_{KL}$')], (0.206, 0.531, 0.84), 0.14,
           '0.35')

d3x, d3y = expand_cols(d_f3_cols)
e3x, e3y = unzip(d_f3_extra)
wind_panel((449, 507, 668, 805), (668, 507, 773, 805), (449, 805, 668, 897), (692, 860, 780, 937),
           unzip(d_f1), (d3x + e3x, d3y + e3y), unzip(d_f5), d_kl,
           [d_vhist1, d_vhist3, d_vhist5], [d_vfit1, d_vfit3, d_vfit5],
           [d_dhist1, d_dhist3, d_dhist5], [d_dfit1, d_dfit3, d_dfit5], d_dhist_w, d_vhist_w, 'S4W',
           [(644, 616, r'$v_D$'), (652, 655, r'$v_{WH}$'), (652, 690, r'$v_{KL}$')], (0.195, 0.506, 0.814), 0.11,
           '0.15')

for x, y, s in [(8, 15, 'a'), (406, 15, 'b'), (10, 487, 'c'), (410, 487, 'd')]:
    ftext(x, y, s, fontsize=11, ha='center', va='center')

fig.savefig('out.png', dpi=100)
